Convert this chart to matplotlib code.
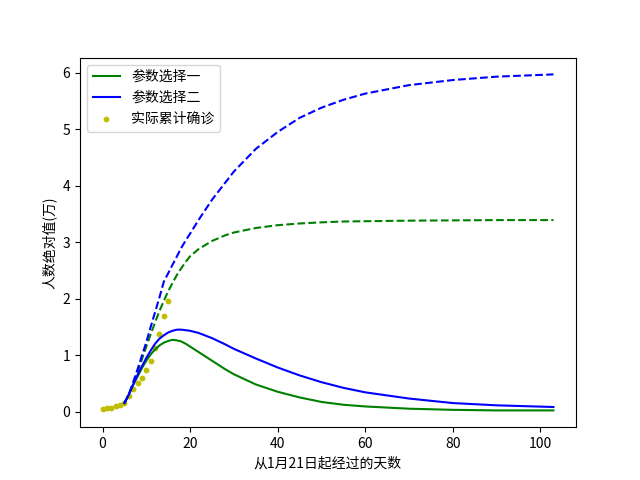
import matplotlib
matplotlib.use("Agg")
import matplotlib.pyplot as plt

plt.rcParams['font.family'] = ['Noto Sans CJK SC', 'DejaVu Sans']
plt.rcParams['axes.unicode_minus'] = False

# values (units: 万)
days = [5, 6, 7, 8, 9, 10, 11, 12, 13, 14, 15, 16, 17, 18, 19, 20, 22, 25, 28, 30,
        35, 40, 45, 50, 55, 60, 70, 80, 90, 103]
total_a = [0.15, 0.3, 0.5, 0.7, 0.93, 1.15, 1.37, 1.58, 1.78, 1.96, 2.13, 2.28, 2.42, 2.54, 2.65, 2.75,
           2.88, 3.02, 3.12, 3.17, 3.25, 3.3, 3.33, 3.35, 3.365, 3.37, 3.38, 3.385, 3.39, 3.39]
total_b = [0.15, 0.3, 0.52, 0.75, 0.99, 1.23, 1.5, 1.76, 2.02, 2.3, 2.45, 2.6, 2.75, 2.9, 3.03, 3.15,
           3.4, 3.75, 4.05, 4.25, 4.65, 4.95, 5.2, 5.38, 5.52, 5.63, 5.78, 5.87, 5.93, 5.97]
active_a = [0.15, 0.3, 0.47, 0.62, 0.77, 0.9, 1.01, 1.1, 1.17, 1.22, 1.25, 1.27, 1.26, 1.24, 1.2, 1.15,
            1.05, 0.9, 0.75, 0.66, 0.48, 0.35, 0.25, 0.17, 0.12, 0.09, 0.05, 0.03, 0.02, 0.02]
active_b = [0.15, 0.3, 0.48, 0.65, 0.8, 0.95, 1.08, 1.2, 1.29, 1.35, 1.4, 1.43, 1.45, 1.45, 1.44, 1.43,
            1.39, 1.3, 1.19, 1.11, 0.94, 0.78, 0.64, 0.52, 0.42, 0.34, 0.23, 0.15, 0.11, 0.08]

obs_days = list(range(16))
obs_vals = [0.044, 0.057, 0.07, 0.09, 0.11, 0.15, 0.28, 0.4, 0.5, 0.6, 0.73, 0.9, 1.13, 1.37, 1.7, 1.96]

fig, ax = plt.subplots(figsize=(6.4, 4.8), dpi=100)
ax.plot(days, active_a, color='green', label='参数选择一')
ax.plot(days, total_a, color='green', linestyle='--')
ax.plot(days, active_b, color='blue', label='参数选择二')
ax.plot(days, total_b, color='blue', linestyle='--')
ax.scatter(obs_days, obs_vals, color='y', s=10, label='实际累计确诊')
ax.set_xlabel('从1月21日起经过的天数')
ax.set_ylabel('人数绝对值(万)')
ax.legend(loc='upper left')
fig.savefig('out.png')
